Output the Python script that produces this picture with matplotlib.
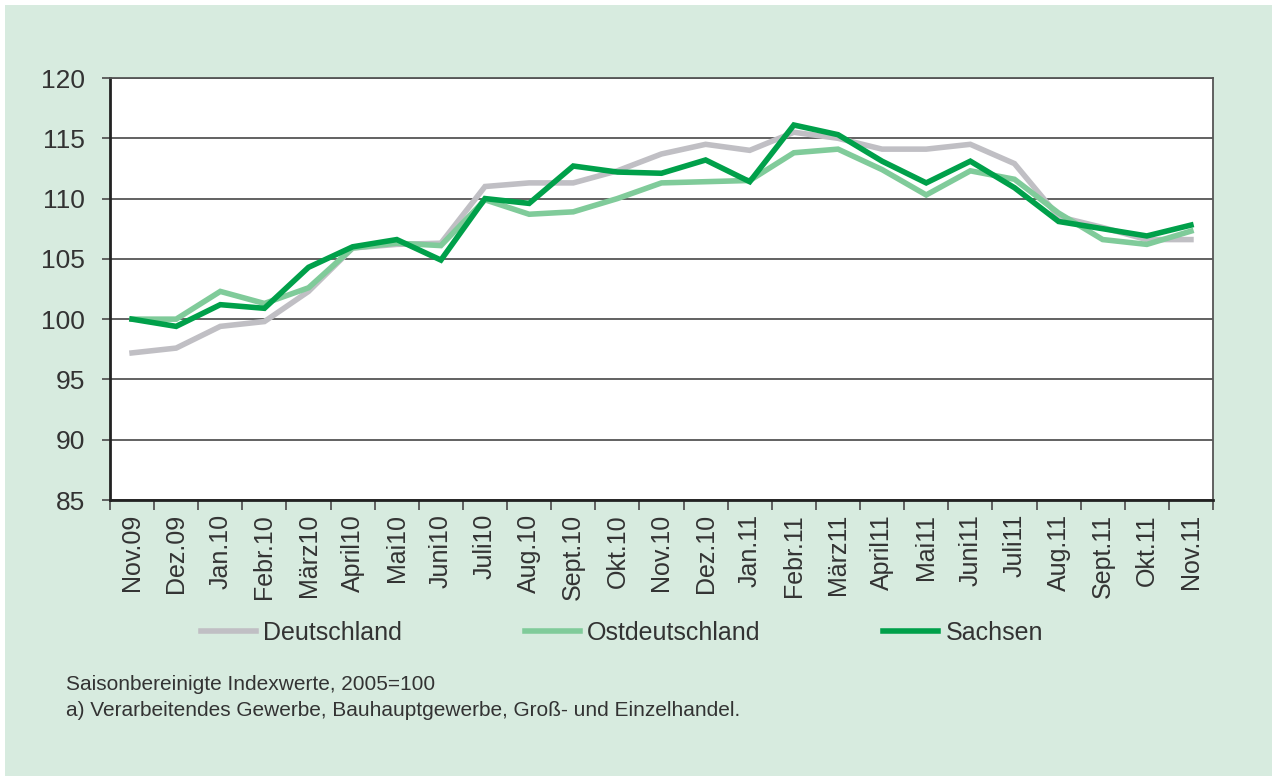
import numpy as np
import matplotlib
matplotlib.use("Agg")
import matplotlib.pyplot as plt

plt.rcParams['font.family'] = ['Liberation Sans', 'DejaVu Sans']

# Monate
months = ["Nov.09", "Dez.09", "Jan.10", "Febr.10", "März10", "April10", "Mai10",
          "Juni10", "Juli10", "Aug.10", "Sept.10", "Okt.10", "Nov.10", "Dez.10",
          "Jan.11", "Febr.11", "März11", "April11", "Mai11", "Juni11", "Juli11",
          "Aug.11", "Sept.11", "Okt.11", "Nov.11"]

# Saisonbereinigte Indexwerte
deutschland = [97.2, 97.6, 99.4, 99.8, 102.3, 105.9, 106.2, 106.3, 111.0, 111.3,
               111.3, 112.3, 113.7, 114.5, 114.0, 115.5, 115.0, 114.1, 114.1,
               114.5, 112.9, 108.5, 107.6, 106.6, 106.6]
ostdeutschland = [100.0, 100.0, 102.3, 101.3, 102.6, 105.9, 106.3, 106.1, 109.9,
                  108.7, 108.9, 110.0, 111.3, 111.4, 111.5, 113.8, 114.1, 112.4,
                  110.3, 112.3, 111.6, 108.8, 106.6, 106.2, 107.3]
sachsen = [100.0, 99.4, 101.2, 100.9, 104.3, 106.0, 106.6, 104.9, 110.0, 109.6,
           112.7, 112.2, 112.1, 113.2, 111.4, 116.1, 115.3, 113.1, 111.3, 113.1,
           110.9, 108.1, 107.5, 106.9, 107.8]

bg = "#d7ebdf"
text_col = "#333333"

fig = plt.figure(figsize=(12.77, 7.78), dpi=100)
fig.patch.set_facecolor("white")
# gruener Hintergrund mit schmalem weissem Rand
fig.patches.append(plt.Rectangle((5 / 1277, 2 / 778), 1 - 10 / 1277, 1 - 7 / 778,
                                 transform=fig.transFigure, facecolor=bg,
                                 edgecolor="none", zorder=-10))

ax = fig.add_axes([110 / 1277, 1 - 500 / 778, 1103 / 1277, 422 / 778])
ax.set_facecolor("white")

x = np.arange(len(months))
ax.plot(x, deutschland, color="#c0bfc4", linewidth=4, label="Deutschland",
        solid_joinstyle="miter", zorder=3)
ax.plot(x, ostdeutschland, color="#80cb9a", linewidth=4, label="Ostdeutschland",
        solid_joinstyle="miter", zorder=4)
ax.plot(x, sachsen, color="#00a04a", linewidth=4, label="Sachsen",
        solid_joinstyle="miter", zorder=5)

ax.set_xlim(-0.5, len(months) - 0.5)
ax.set_ylim(85, 120)
ax.set_yticks(np.arange(85, 121, 5))
ax.grid(axis="y", color="#555555", linewidth=1.3, zorder=1)

ax.set_xticks(x)
ax.set_xticklabels(months, rotation=90, fontsize=18, color=text_col)
ax.set_xticks(np.arange(-0.5, len(months), 1), minor=True)
ax.tick_params(axis="x", which="major", length=0, pad=10)
ax.tick_params(axis="x", which="minor", length=7, width=1.3, color="#555555")
ax.tick_params(axis="y", length=6, width=1.3, color="#555555", labelsize=19,
               labelcolor=text_col, pad=12)

for side in ["left", "bottom"]:
    ax.spines[side].set_linewidth(2)
    ax.spines[side].set_color("#222222")
for side in ["top", "right"]:
    ax.spines[side].set_linewidth(1.3)
    ax.spines[side].set_color("#555555")

leg = fig.legend(loc="center", bbox_to_anchor=(622 / 1277, 1 - 633 / 778), ncol=3,
                 frameon=False, fontsize=18, handlelength=2.2, columnspacing=4.9,
                 handletextpad=0.3)
for t in leg.get_texts():
    t.set_color(text_col)

fig.text(66 / 1277, 1 - 685 / 778, "Saisonbereinigte Indexwerte, 2005=100",
         fontsize=15, color=text_col, va="center")
fig.text(66 / 1277, 1 - 711 / 778,
         "a) Verarbeitendes Gewerbe, Bauhauptgewerbe, Groß- und Einzelhandel.",
         fontsize=15, color=text_col, va="center")

fig.savefig("out.png", dpi=100, facecolor=fig.get_facecolor())
